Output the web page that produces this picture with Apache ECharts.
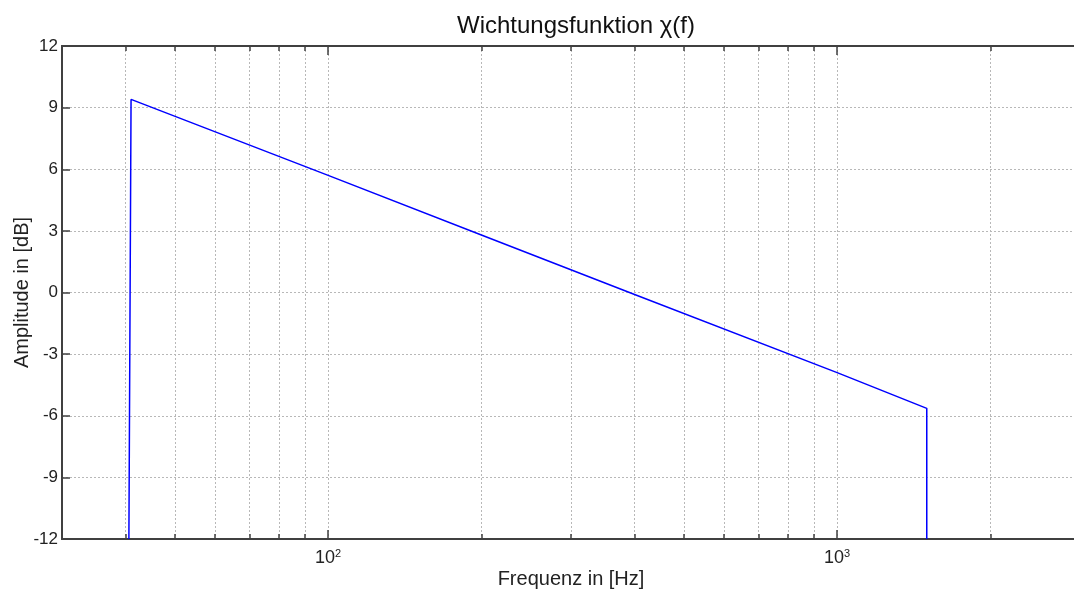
<!DOCTYPE html>
<html lang="de">
<head>
<meta charset="UTF-8">
<title>Wichtungsfunktion</title>
<style>
  html, body { margin: 0; padding: 0; background: #fff; }
  #chart { width: 1074px; height: 590px; }
</style>
</head>
<body>
<div id="chart"></div>
<script src="https://cdn.jsdelivr.net/npm/echarts@6/dist/echarts.min.js"></script>
<script>
// Frequenzen [Hz] und Amplituden [dB]
var freq = [40.6, 41, 100, 200, 400, 1000, 1500, 1500];
var ampl = [-12, 9.4, 5.7, 2.8, -0.1, -3.9, -5.64, -12];

// Gitterlinien / Ticks der log. x-Achse
var xTicks = [40, 50, 60, 70, 80, 90, 100, 200, 300, 400, 500, 600, 700, 800, 900, 1000, 2000, 3000];
var xMajor = [100, 1000];
var xMin = 30, xMax = 3000;
var yMin = -12, yMax = 12, yStep = 3;

var font = "'Liberation Sans', Arial, sans-serif";
var axisColor = "#404040";
var gridColor = "#b8b8b8";

var chart = echarts.init(document.getElementById('chart'));

var data = freq.map(function (f, i) { return [f, ampl[i]]; });

// x-Achse: unten mit Beschriftung, oben nur Ticks (Box wie in MATLAB)
function logAxis(pos, ticks, len, withLabels) {
  return {
    type: "log",
    logBase: 10,
    min: xMin,
    max: xMax,
    position: pos,
    axisLine: { onZero: false, lineStyle: { color: axisColor, width: 2 } },
    axisTick: { inside: true, length: len, customValues: ticks, lineStyle: { color: axisColor, width: 1.5 } },
    axisLabel: withLabels ? {
      customValues: xMajor,
      margin: 9,
      formatter: function (v) {
        return "{b|10}{s|" + Math.round(Math.log10(v)) + "}";
      },
      rich: {
        b: { fontFamily: font, fontSize: 18, color: "#222" },
        s: { fontFamily: font, fontSize: 11, color: "#222", verticalAlign: "top", padding: [0, 0, 10, 0] }
      }
    } : { show: false },
    splitLine: { show: false }
  };
}

var xAxes = [
  logAxis("bottom", xTicks, 5, true),
  logAxis("top", xTicks, 5, false),
  logAxis("bottom", xMajor, 9, false),
  logAxis("top", xMajor, 9, false)
];
xAxes[0].name = "Frequenz in [Hz]";
xAxes[0].nameLocation = "middle";
xAxes[0].nameGap = 30;
xAxes[0].nameMoveOverlap = false;
xAxes[0].nameTextStyle = { fontFamily: font, fontSize: 20, color: "#222" };
xAxes[0].splitLine = { show: true, lineStyle: { color: gridColor, type: [2, 2], width: 1 } };

var option = {
  backgroundColor: "#fff",
  animation: false,
  title: {
    text: "Wichtungsfunktion χ(f)",
    left: 571,
    textAlign: "center",
    top: 9,
    textStyle: { fontFamily: font, fontSize: 24, fontWeight: "normal", color: "#111" }
  },
  grid: { left: 62, right: -6, top: 46, bottom: 51, outerBoundsMode: "none" },
  xAxis: xAxes,
  yAxis: {
    type: "value",
    min: yMin,
    max: yMax,
    interval: yStep,
    name: "Amplitude in [dB]",
    nameLocation: "middle",
    nameGap: 30,
    nameMoveOverlap: false,
    nameTextStyle: { fontFamily: font, fontSize: 20, color: "#222" },
    axisLine: { show: true, onZero: false, lineStyle: { color: axisColor, width: 2 } },
    axisTick: { show: true, inside: true, length: 8, lineStyle: { color: axisColor, width: 1.5 } },
    axisLabel: { fontFamily: font, fontSize: 17, color: "#222", margin: 4 },
    splitLine: { show: true, lineStyle: { color: gridColor, type: [2, 2], width: 1 } }
  },
  series: [{
    type: "line",
    data: data,
    showSymbol: false,
    symbol: "none",
    lineStyle: { color: "#0000ff", width: 1.5 }
  }]
};

chart.setOption(option);
</script>
</body>
</html>
